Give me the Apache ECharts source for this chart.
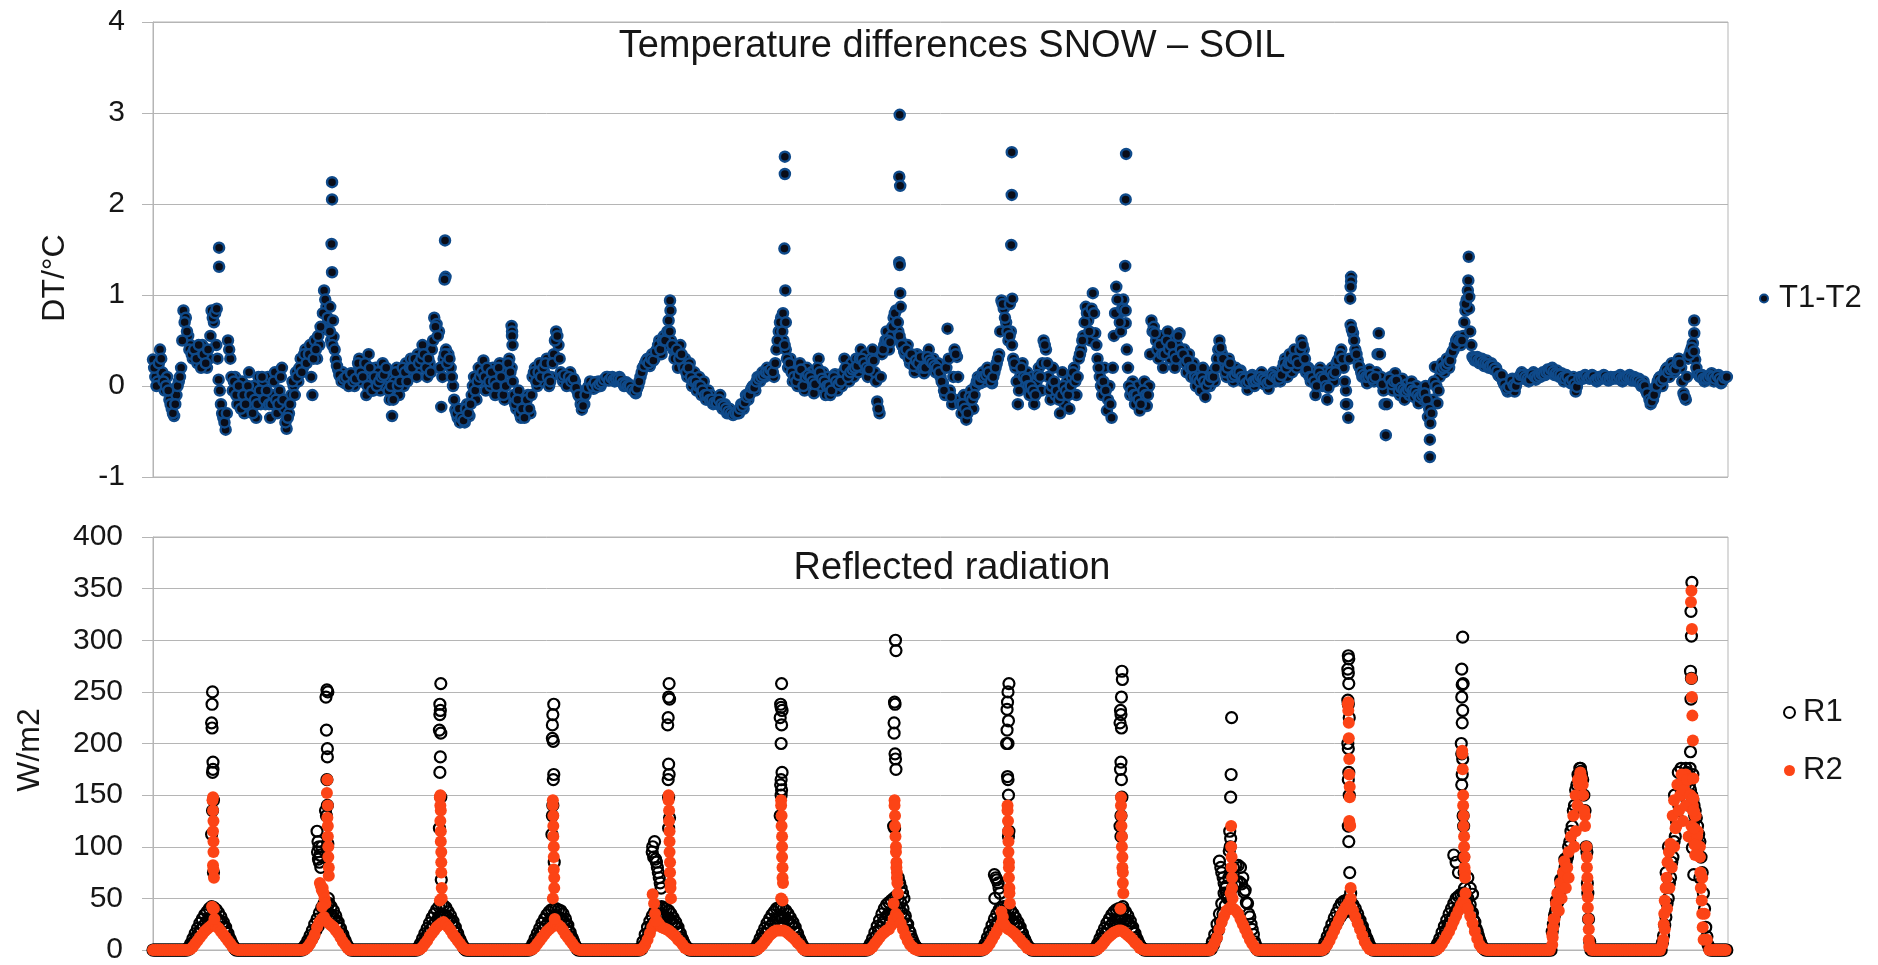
<!DOCTYPE html>
<html><head><meta charset="utf-8">
<script src="https://cdn.jsdelivr.net/npm/echarts@6/dist/echarts.min.js"></script>
<style>html,body{margin:0;padding:0;background:#fff}#c{width:1878px;height:965px}</style>
</head><body><div id="c"></div>
<script>
// ---- Top panel: T1-T2 (deg C). One row per day, 48 readings at hh:00 / hh:30 ----
const dtDays = [
[0.29,0.1,0.05,0.4,0.15,-0.05,0.1,-0.15, -0.25,-0.33,-0.1,0.05,0.2,0.83,0.75,0.55, 0.45,0.3,0.4,0.25,0.35,0.45,0.3,0.2, 0.3,0.83,0.7,0.45,0.07,-0.2,-0.35,-0.48, 0.5,0.3,-0.05,0.1,-0.2,-0.1,0.05,-0.3, -0.15,0.15,-0.25,0.0,-0.35,0.1,-0.2,0.05],
[-0.2,0.1,-0.35,-0.1,0.15,-0.3,-0.05,0.2, -0.25,-0.47,-0.3,-0.1,0.0,0.15,0.05,0.3, 0.2,0.4,0.3,0.45,-0.1,0.5,0.3,0.45, 0.62,1.05,0.87,0.72,0.5,0.54,0.29,0.18, 0.1,0.15,0.03,0.12,0.05,0.1,0.0,0.15, 0.3,0.05,0.2,-0.1,0.35,0.1,-0.05,0.2],
[0.15,-0.05,0.25,0.0,0.1,-0.15,-0.33,0.05, 0.2,-0.1,0.1,0.0,0.25,0.1,0.3,0.15, 0.2,0.35,0.2,0.45,0.3,0.1,0.25,0.4, 0.75,0.68,0.6,-0.23,0.3,0.4,0.35,0.2, 0.0,-0.26,-0.35,-0.4,-0.3,-0.4,-0.2,-0.33, -0.1,0.1,-0.15,0.2,0.05,0.28,-0.05,0.15],
[0.0,0.2,-0.1,0.1,0.25,0.05,-0.15,0.15, 0.3,0.2,-0.1,-0.25,-0.05,-0.35,-0.2,-0.3, -0.1,-0.3,0.1,0.2,0.0,0.25,0.05,0.15, 0.3,0.0,0.1,0.35,0.6,0.45,0.15,0.05, 0.1,0.03,0.15,0.0,0.05,-0.05,-0.12,-0.26, -0.2,-0.05,0.0,0.02,-0.03,0.03,0.05,0.0],
[0.05,0.08,0.1,0.07,0.1,0.05,0.06,0.1, 0.05,0.0,0.04,0.02,-0.02,-0.05,-0.08,0.0, 0.1,0.2,0.25,0.3,0.22,0.35,0.3,0.4, 0.5,0.35,0.55,0.45,0.72,0.5,0.4,0.35, 0.2,0.45,0.25,0.3,0.1,0.25,0.0,0.15, -0.05,0.1,-0.1,0.05,-0.15,-0.05,-0.1,-0.2],
[-0.15,-0.2,-0.1,-0.25,-0.2,-0.3,-0.25,-0.3, -0.3,-0.28,-0.3,-0.2,-0.25,-0.1,-0.15,-0.05, 0.0,-0.05,0.1,0.05,0.15,0.1,0.2,0.12, 0.18,0.1,0.4,0.6,0.75,0.5,0.4,0.2, 0.3,0.05,0.15,0.0,0.25,0.1,-0.05,0.2, 0.05,0.15,-0.08,0.1,0.3,0.0,0.15,-0.1],
[0.1,-0.1,0.05,0.13,-0.05,0.1,0.0,0.3, 0.15,0.05,0.25,0.1,0.3,0.15,0.4,0.2, 0.35,0.1,0.25,0.4,0.15,-0.17,-0.3,0.35, 0.45,0.6,0.4,0.55,0.75,0.83,0.6,0.5, 0.43,0.35,0.45,0.25,0.3,0.15,0.35,0.2, 0.3,0.14,0.25,0.4,0.2,0.3,0.15,0.25],
[0.1,0.03,-0.1,0.63,-0.05,-0.2,0.4,0.32, -0.15,-0.3,-0.1,-0.37,-0.2,-0.05,-0.25,0.0, 0.1,0.03,0.15,0.05,0.2,0.1,0.03,0.15, 0.25,0.35,0.94,0.85,0.7,0.5,0.6,0.3, 0.2,-0.2,0.1,0.25,0.0,0.15,-0.1,0.1, -0.2,0.05,0.2,-0.05,0.5,0.4,0.1,-0.15],
[0.2,-0.1,0.0,-0.3,0.15,-0.2,0.05,-0.25, 0.1,0.2,-0.1,0.3,0.4,0.55,0.87,0.72, 0.5,1.02,0.58,0.3,0.1,-0.1,0.2,-0.27, 0.0,-0.35,0.55,1.09,0.8,0.6,0.95,0.69, 0.2,-0.1,0.05,-0.2,0.0,-0.27,-0.15,0.05, -0.22,0.0,0.72,0.65,0.5,0.3,0.55,0.2],
[0.45,0.6,0.3,0.5,0.2,0.45,0.58,0.3, 0.4,0.15,0.35,0.1,0.25,0.0,0.15,-0.05, 0.2,-0.12,0.1,0.0,0.15,0.05,0.3,0.5, 0.36,0.2,0.1,0.3,0.15,0.05,0.2,0.1, 0.17,0.05,0.1,-0.04,0.08,0.12,0.0,0.1, 0.05,0.15,0.02,0.1,-0.03,0.08,0.15,0.05],
[0.1,0.05,0.2,0.3,0.1,0.35,0.15,0.4, 0.2,0.3,0.5,0.4,0.15,0.2,0.05,0.15, -0.1,0.1,0.2,0.0,0.15,-0.15,0.1,0.2, 0.05,0.25,0.3,0.4,0.2,-0.05,-0.35,0.67, 0.58,0.4,0.28,0.2,0.1,0.15,0.03,0.18, 0.1,0.05,0.15,0.58,0.1,-0.05,-0.54,0.05],
[0.1,-0.05,0.14,0.0,-0.1,0.08,-0.15,0.02, -0.1,0.05,-0.12,0.0,-0.19,-0.05,-0.15,0.0, -0.34,-0.41,-0.15,0.21,-0.19,0.1,0.25,0.15, 0.3,0.2,0.35,0.4,0.5,0.54,0.45,0.55, 0.83,1.05,0.6,0.32,0.28,0.32,0.25,0.3, 0.22,0.28,0.2,0.25,0.18,0.2,0.12,0.1],
[0.05,0.0,-0.06,0.03,0.08,-0.06,0.05,0.1, 0.15,0.08,0.12,0.05,0.1,0.15,0.07,0.12, 0.1,0.15,0.12,0.18,0.15,0.2,0.12,0.17, 0.1,0.14,0.05,0.12,0.08,0.03,0.1,-0.06, 0.05,0.1,0.08,0.12,0.1,0.08,0.12,0.1, 0.05,0.1,0.08,0.12,0.1,0.06,0.1,0.08],
[0.1,0.08,0.12,0.05,0.1,0.08,0.12,0.06, 0.1,0.05,0.08,0.0,0.05,-0.05,-0.1,-0.2, -0.15,-0.05,0.05,0.1,0.0,0.15,0.2,0.1, 0.25,0.15,0.2,0.3,0.2,-0.08,-0.15,0.3, 0.38,0.47,0.29,0.14,0.1,0.12,0.05,0.1, 0.08,0.14,0.05,0.1,0.12,0.03,0.08,0.1]
];
// readings at hh:15 / hh:45
const dtMidDays = [
[0.2,0.0,0.25,0.3,0.05,0.0,-0.05,-0.2, -0.3,-0.2,0.0,0.1,0.5,0.7,0.6,0.4, 0.35,0.4,0.3,0.45,0.2,0.35,0.25,0.4, 0.55,0.75,0.8,0.3,-0.05,-0.3,-0.4,-0.3, 0.4,0.1,0.05,-0.1,0.0,-0.25,-0.1,-0.2, 0.0,-0.1,-0.3,-0.15,-0.2,-0.05,0.1,-0.15],
[-0.05,-0.2,-0.2,0.05,-0.15,-0.2,0.1,-0.15, -0.4,-0.35,-0.2,0.05,-0.1,0.1,0.2,0.15, 0.35,0.25,0.35,0.1,0.3,0.4,0.55,0.65, 0.8,0.95,0.75,0.6,0.45,0.4,0.22,0.12, 0.05,0.08,0.1,0.0,0.14,0.05,0.08,0.25, 0.15,0.1,0.25,0.0,0.2,-0.05,0.1,0.0],
[0.05,0.1,0.12,0.2,-0.05,0.0,-0.15,0.15, 0.0,0.05,0.2,0.15,0.05,0.2,0.2,0.3, 0.1,0.25,0.3,0.35,0.2,0.3,0.15,0.5, 0.65,0.55,0.2,0.1,0.35,0.25,0.3,0.1, -0.15,-0.3,-0.25,-0.35,-0.38,-0.25,-0.3,-0.2, 0.0,-0.05,0.05,0.1,0.15,0.1,0.2,0.05],
[0.15,0.05,0.0,0.2,0.1,-0.1,0.0,0.25, 0.15,0.05,-0.2,-0.15,-0.3,-0.25,-0.35,-0.15, -0.25,-0.1,0.15,0.05,0.15,0.1,0.2,0.25, 0.1,0.05,0.25,0.5,0.55,0.3,0.1,0.12, 0.0,0.1,0.05,0.08,-0.02,-0.1,-0.2,-0.22, -0.1,-0.02,0.05,0.0,0.04,-0.01,0.02,0.04],
[0.07,0.1,0.06,0.09,0.07,0.08,0.08,0.07, 0.03,0.02,0.0,0.0,-0.04,-0.06,-0.03,0.05, 0.15,0.22,0.28,0.25,0.3,0.28,0.38,0.45, 0.4,0.5,0.5,0.6,0.6,0.45,0.3,0.4, 0.3,0.35,0.2,0.15,0.2,0.1,0.05,0.05, 0.0,0.0,-0.05,-0.1,-0.1,-0.15,-0.15,-0.18],
[-0.18,-0.15,-0.2,-0.22,-0.25,-0.28,-0.3,-0.32, -0.3,-0.3,-0.25,-0.22,-0.18,-0.12,-0.1,-0.02, -0.02,0.05,0.08,0.1,0.12,0.15,0.15,0.18, 0.15,0.25,0.5,0.7,0.6,0.45,0.3,0.25, 0.15,0.1,0.05,0.12,0.18,0.0,0.1,0.12, 0.1,0.05,0.02,0.2,0.15,0.08,0.05,0.0],
[0.0,-0.05,0.1,0.05,0.02,0.05,0.15,0.2, 0.1,0.15,0.18,0.2,0.22,0.3,0.3,0.25, 0.2,0.18,0.3,0.28,0.05,-0.25,0.1,0.4, 0.5,0.5,0.48,0.65,0.8,0.7,0.55,0.45, 0.38,0.4,0.3,0.35,0.22,0.28,0.25,0.32, 0.2,0.2,0.32,0.28,0.25,0.22,0.2,0.15],
[0.05,-0.05,0.2,0.3,-0.12,0.1,0.35,0.1, -0.2,-0.2,-0.25,-0.3,-0.12,-0.15,-0.1,0.05, 0.05,0.1,0.1,0.12,0.15,0.05,0.1,0.2, 0.3,0.6,0.9,0.75,0.6,0.55,0.45,0.25, 0.05,-0.05,0.2,0.1,0.08,0.0,0.0,-0.05, -0.1,0.12,0.1,0.25,0.45,0.25,-0.05,0.0],
[0.05,-0.05,-0.15,-0.1,0.0,-0.05,-0.1,0.0, 0.15,0.05,0.1,0.35,0.5,0.7,0.8,0.6, 0.85,0.8,0.45,0.2,0.0,0.05,-0.05,-0.15, -0.2,0.2,0.8,0.95,0.7,0.85,0.83,0.4, 0.0,-0.05,-0.1,-0.1,-0.15,-0.2,-0.05,-0.1, -0.1,0.35,0.6,0.58,0.4,0.45,0.35,0.35],
[0.5,0.4,0.45,0.35,0.3,0.55,0.4,0.35, 0.25,0.28,0.2,0.2,0.1,0.08,0.05,0.1, 0.05,0.0,0.05,0.1,0.1,0.2,0.4,0.42, 0.3,0.15,0.2,0.25,0.1,0.12,0.15,0.15, 0.1,0.08,0.03,0.05,0.1,0.05,0.06,0.08, 0.1,0.08,0.06,0.03,0.05,0.12,0.1,0.08],
[0.08,0.12,0.25,0.2,0.25,0.25,0.3,0.3, 0.25,0.4,0.45,0.3,0.18,0.1,0.1,0.05, 0.0,0.15,0.1,0.08,0.0,-0.02,0.15,0.12, 0.15,0.28,0.35,0.3,0.05,-0.2,0.3,0.62, 0.5,0.35,0.22,0.15,0.12,0.1,0.1,0.12, 0.08,0.1,0.35,0.35,0.02,-0.2,-0.2,0.08],
[0.02,0.05,0.06,-0.05,-0.02,-0.04,-0.06,-0.04, -0.02,-0.05,-0.06,-0.1,-0.12,-0.1,-0.08,-0.15, -0.25,-0.3,0.05,0.0,-0.05,0.18,0.2,0.22, 0.25,0.28,0.38,0.45,0.52,0.5,0.5,0.7, 0.95,0.85,0.45,0.3,0.3,0.28,0.28,0.26, 0.25,0.24,0.22,0.22,0.19,0.16,0.11,0.12],
[0.02,-0.03,-0.01,0.06,0.01,0.0,0.08,0.12, 0.12,0.1,0.08,0.07,0.13,0.1,0.09,0.11, 0.13,0.13,0.15,0.16,0.18,0.16,0.14,0.13, 0.12,0.09,0.08,0.1,0.05,0.07,0.02,-0.01, 0.08,0.09,0.1,0.11,0.09,0.1,0.11,0.07, 0.08,0.09,0.1,0.11,0.08,0.08,0.09,0.09],
[0.09,0.1,0.08,0.08,0.09,0.1,0.09,0.08, 0.07,0.06,0.04,0.02,0.0,-0.08,-0.15,-0.17, -0.1,0.0,0.08,0.05,0.08,0.18,0.15,0.18, 0.2,0.18,0.25,0.25,0.05,-0.12,0.1,0.34, 0.42,0.38,0.2,0.12,0.11,0.08,0.08,0.09, 0.11,0.1,0.08,0.11,0.08,0.05,0.09,0.1]
];
// extra short-interval readings [hour, value]
const dtExtra = [
[13.6,0.85],[14.1,1.52],[14.1,1.31],
[37.8,0.87],[38.2,2.24],[38.2,2.05],[38.1,1.56],[38.2,1.25],[38.4,0.72],
[62.3,1.6],[62.4,1.2],[62.2,1.17],
[76.5,0.66],[76.6,0.6],[76.6,0.55],[76.7,0.45],
[110.3,0.94],[110.4,0.83],
[134.4,0.8],[134.8,2.52],[134.8,2.33],[134.7,1.51],[134.9,1.05],[135.0,0.7],
[158.9,0.7],[159.3,2.98],[159.2,2.3],[159.4,2.2],[159.2,1.36],[159.3,1.33],[159.4,1.02],[159.5,0.87],
[182.8,0.9],[183.2,2.57],[183.2,2.1],[183.1,1.55],[183.3,0.96],
[207.0,0.85],[207.6,2.55],[207.5,2.05],[207.4,1.32],[207.5,0.83],
[254.5,-0.2],[255.6,1.2],[255.6,1.15],[255.5,1.09],[255.4,0.96],
[272.4,-0.59],[272.4,-0.78],
[280.0,0.9],[280.7,1.42],[280.6,1.16],[280.8,0.98],
[328.8,0.72],[328.8,0.58]
];

// ---- Bottom panel: reflected radiation W/m2. One row per day, 48 readings at hh:00 / hh:30 ----
const r1Days = [
[0,0,0,0,0, 0,0,0,0,0, 0,0,0,0,0, 2,6,11,16,21,26,30,34,37,40,42,41,39,36,32,27,22,16,10,5,1, 0,0,0,0,0, 0,0,0,0,0, 0,0],
[0,0,0,0,0, 0,0,0,0,0, 0,0,0,0,0, 0, 2,5,9,14,19,25,30,36,41,45,46,45,42,38,33,27,21,15,9,4,1, 0,0,0,0,0, 0,0,0,0,0, 0],
[0,0,0,0,0, 0,0,0,0,0, 0,0,0,0,0, 0,0, 2,6,11,16,21,26,31,35,39,42,44,43,41,37,33,28,22,16,10,5,1, 0,0,0,0,0, 0,0,0,0,0],
[0,0,0,0,0, 0,0,0,0,0, 0,0,0,0,0, 0,0, 2,6,11,16,21,26,30,34,37,39,40,40,39,38,35,30,24,17,11,5,1, 0,0,0,0,0, 0,0,0,0,0],
[0,0,0,0,0, 0,0,0,0,0, 0,0,0,0,0, 0, 2,8,15,22,28,33,37,40,41,42,41,40,38,35,31,27,22,16,10,5,2,0, 0,0,0,0,0, 0,0,0,0,0],
[0,0,0,0,0, 0,0,0,0,0, 0,0,0,0,0, 0,0, 2,6,11,16,21,26,30,34,37,40,41,41,40,38,35,31,27,22,16,10,5,1, 0,0,0,0,0, 0,0,0,0],
[0,0,0,0,0, 0,0,0,0,0, 0,0,0,0,0, 0,0, 2,6,11,17,23,29,35,40,44,46,48,50,52,50,46,40,33,25,17,10,5,2,0, 0,0,0,0,0, 0,0,0],
[0,0,0,0,0, 0,0,0,0,0, 0,0,0,0,0, 0,0,0, 2,6,12,18,24,30,35,39,41,42,41,40,38,35,31,27,22,16,10,5,2,0, 0,0,0,0,0, 0,0,0],
[0,0,0,0,0, 0,0,0,0,0, 0,0,0,0,0, 0,0,0, 2,6,11,16,21,26,30,34,37,39,40,40,39,37,33,28,22,16,10,5,2,0, 0,0,0,0,0, 0,0,0],
[0,0,0,0,0, 0,0,0,0,0, 0,0,0,0,0, 0,0,0,0, 2,8,15,25,35,45,55,62,70,75,80,82,82,80,70,58,45,32,20,8,1, 0,0,0,0,0, 0,0,0],
[0,0,0,0,0, 0,0,0,0,0, 0,0,0,0,0, 0,0,0,0, 2,7,13,19,25,31,36,41,45,47,48,48,47,44,40,35,29,23,17,11,5,1, 0,0,0,0,0, 0,0],
[0,0,0,0,0, 0,0,0,0,0, 0,0,0,0,0, 0,0,0,0, 2,6,11,17,23,29,35,40,45,50,52,54,55,54,50,44,36,27,18,10,4,1,0, 0,0,0,0,0, 0],
[0,0,0,0,0, 0,0,0,0,0, 0,0,0,0,0, 0,0,0,0,0, 0, 18,34,45,55,64,75,86,100,115,135,155,170,176,165,135,65,8, 0,0,0,0,0, 0,0,0,0,0],
[0,0,0,0,0, 0,0,0,0,0, 0,0,0,0,0, 0,0,0,0,0, 7,24,45,65,85,105,125,140,155,165,176,170,155,145,135,120,105,75,40,13,2, 0,0,0,0,0, 0,0]
];
// R1 readings at hh:15 / hh:45
const r1MidDays = [
[0,0,0,0,0, 0,0,0,0,0, 0,0,0,0,0, 1,4,8,12,16,20,23,26,29,31,32,32,30,28,25,21,17,12,7,3,0, 0,0,0,0,0, 0,0,0,0,0, 0,0],
[0,0,0,0,0, 0,0,0,0,0, 0,0,0,0,0, 0, 1,3,6,10,14,19,23,28,32,35,36,35,33,30,26,21,16,11,6,2,0, 0,0,0,0,0, 0,0,0,0,0, 0],
[0,0,0,0,0, 0,0,0,0,0, 0,0,0,0,0, 0,0, 1,4,8,12,16,20,24,27,30,33,34,33,32,29,26,22,17,12,7,3,0, 0,0,0,0,0, 0,0,0,0,0],
[0,0,0,0,0, 0,0,0,0,0, 0,0,0,0,0, 0,0, 1,4,8,12,16,20,23,26,29,31,32,32,31,30,27,23,18,13,8,3,0, 0,0,0,0,0, 0,0,0,0,0],
[0,0,0,0,0, 0,0,0,0,0, 0,0,0,0,0, 0, 1,5,11,17,22,26,29,31,32,33,32,31,30,27,24,21,17,12,7,3,1,0, 0,0,0,0,0, 0,0,0,0,0],
[0,0,0,0,0, 0,0,0,0,0, 0,0,0,0,0, 0,0, 1,4,8,12,16,20,23,26,29,31,32,32,31,29,27,24,21,17,12,7,3,0, 0,0,0,0,0, 0,0,0,0],
[0,0,0,0,0, 0,0,0,0,0, 0,0,0,0,0, 0,0, 1,4,8,13,18,22,27,31,34,36,38,39,40,39,36,31,25,19,13,7,3,1,0, 0,0,0,0,0, 0,0,0],
[0,0,0,0,0, 0,0,0,0,0, 0,0,0,0,0, 0,0,0, 1,4,9,14,19,23,27,30,32,33,32,31,29,27,24,21,17,12,7,3,1,0, 0,0,0,0,0, 0,0,0],
[0,0,0,0,0, 0,0,0,0,0, 0,0,0,0,0, 0,0,0, 1,4,8,12,16,20,23,26,29,30,31,31,30,28,25,21,17,12,7,3,1,0, 0,0,0,0,0, 0,0,0],
[0,0,0,0,0, 0,0,0,0,0, 0,0,0,0,0, 0,0,0,0, 1,5,11,19,27,35,43,50,56,60,64,66,66,64,56,46,35,25,15,5,0, 0,0,0,0,0, 0,0,0],
[0,0,0,0,0, 0,0,0,0,0, 0,0,0,0,0, 0,0,0,0, 1,5,10,15,20,24,28,32,35,37,38,38,37,35,32,28,23,18,13,8,3,0, 0,0,0,0,0, 0,0],
[0,0,0,0,0, 0,0,0,0,0, 0,0,0,0,0, 0,0,0,0, 1,4,8,13,18,23,28,32,36,40,42,44,45,44,40,35,29,21,14,7,2,0,0, 0,0,0,0,0, 0],
[0,0,0,0,0, 0,0,0,0,0, 0,0,0,0,0, 0,0,0,0,0, 0, 25,38,47,58,68,80,90,105,120,140,160,168,170,150,100,30,0, 0,0,0,0,0, 0,0,0,0,0],
[0,0,0,0,0, 0,0,0,0,0, 0,0,0,0,0, 0,0,0,0,0, 14,32,50,70,90,110,128,142,158,170,172,160,150,140,128,112,90,55,22,5,0, 0,0,0,0,0, 0,0]
];
const r2Days = [
[0,0,0,0,0, 0,0,0,0,0, 0,0,0,0,0, 0,1,3,6,9,12,15,18,20,22,24,24,23,21,18,15,12,9,6,3,1, 0,0,0,0,0, 0,0,0,0,0, 0,0],
[0,0,0,0,0, 0,0,0,0,0, 0,0,0,0,0, 0, 0,1,3,6,10,15,22,27,30,32,28,26,24,22,19,16,12,8,5,2,0, 0,0,0,0,0, 0,0,0,0,0, 0],
[0,0,0,0,0, 0,0,0,0,0, 0,0,0,0,0, 0,0, 0,1,3,6,9,13,16,19,22,24,26,27,25,22,19,15,12,9,6,3,1, 0,0,0,0,0, 0,0,0,0,0],
[0,0,0,0,0, 0,0,0,0,0, 0,0,0,0,0, 0,0, 0,1,3,6,9,12,15,18,20,22,24,25,24,22,19,15,12,9,6,3,1, 0,0,0,0,0, 0,0,0,0,0],
[0,0,0,0,0, 0,0,0,0,0, 0,0,0,0,0, 0, 0,2,5,10,16,22,26,28,25,22,21,20,19,17,15,13,10,8,5,2,1,0, 0,0,0,0,0, 0,0,0,0,0],
[0,0,0,0,0, 0,0,0,0,0, 0,0,0,0,0, 0,0, 0,1,3,5,8,11,14,16,18,19,19,19,19,18,16,14,12,10,7,5,2,0, 0,0,0,0,0, 0,0,0,0],
[0,0,0,0,0, 0,0,0,0,0, 0,0,0,0,0, 0,0, 0,1,3,6,9,12,15,17,19,20,24,30,35,32,26,20,14,9,5,3,1,0,0, 0,0,0,0,0, 0,0,0],
[0,0,0,0,0, 0,0,0,0,0, 0,0,0,0,0, 0,0,0, 0,1,3,6,10,14,18,22,26,25,22,20,19,17,15,12,10,7,5,2,1,0, 0,0,0,0,0, 0,0,0],
[0,0,0,0,0, 0,0,0,0,0, 0,0,0,0,0, 0,0,0, 0,1,3,5,8,11,13,15,17,18,19,19,18,16,14,12,10,7,5,2,1,0, 0,0,0,0,0, 0,0,0],
[0,0,0,0,0, 0,0,0,0,0, 0,0,0,0,0, 0,0,0,0, 0,3,7,12,20,27,33,38,40,42,40,38,35,30,25,20,15,10,6,3,0, 0,0,0,0,0, 0,0,0],
[0,0,0,0,0, 0,0,0,0,0, 0,0,0,0,0, 0,0,0,0, 0,2,5,9,14,19,24,29,34,38,42,45,42,38,32,26,20,14,8,4,1,0, 0,0,0,0,0, 0,0],
[0,0,0,0,0, 0,0,0,0,0, 0,0,0,0,0, 0,0,0,0, 0,1,3,6,10,14,18,23,28,33,38,43,47,45,40,33,26,18,11,5,2,1,0, 0,0,0,0,0, 0],
[0,0,0,0,0, 0,0,0,0,0, 0,0,0,0,0, 0,0,0,0,0, 0, 15,30,40,50,60,70,80,95,110,130,150,165,172,160,130,60,5, 0,0,0,0,0, 0,0,0,0,0],
[0,0,0,0,0, 0,0,0,0,0, 0,0,0,0,0, 0,0,0,0,0, 5,20,40,60,80,100,120,135,150,160,170,165,150,140,130,115,100,70,35,10,0, 0,0,0,0,0, 0,0]
];
// extra short-interval readings around midday [hour, value]
const r1Extra = [
[12.7,250],[12.6,238],[12.5,220],[12.6,215],[12.8,182],[12.8,175],[12.7,172],[12.9,145],[12.7,135],[12.5,112],[12.9,75],
[37.1,252],[37.3,250],[36.9,245],[37.0,213],[37.2,195],[37.2,187],[37.1,165],[37.2,140],[36.8,135],[37.0,130],[35.0,115],[35.2,105],[35.4,100],[35.1,95],[35.6,92],[35.3,88],[35.8,80],[36.0,100],[35.5,85],[37.3,103],[37.4,50],[37.5,45],
[61.4,258],[61.2,238],[61.3,232],[61.2,228],[61.1,213],[61.4,210],[61.3,187],[61.2,172],[61.4,148],[61.1,118],[61.5,68],
[85.5,238],[85.3,228],[85.2,218],[85.2,205],[85.4,202],[85.5,170],[85.4,165],[85.3,140],[85.2,130],[85.1,112],[85.6,85],
[110.1,258],[110.0,245],[110.2,243],[109.9,225],[109.8,218],[110.0,180],[110.1,170],[109.9,165],[110.0,148],[110.2,128],[110.0,118],[106.5,95],[106.8,90],[107.0,105],[107.2,88],[107.4,85],[107.6,80],[107.8,75],[108.0,70],[108.2,65],[108.4,60],[106.6,100],
[134.1,258],[133.9,238],[134.0,235],[134.2,232],[133.8,225],[134.1,218],[134.0,200],[134.2,172],[134.0,165],[133.9,160],[134.1,155],[134.0,150],[133.8,130],
[158.4,300],[158.5,290],[158.2,240],[158.3,238],[158.1,220],[158.1,210],[158.3,190],[158.4,185],[158.5,175],[158.0,120],[158.2,118],[159.0,70],[159.3,65],[159.6,60],[159.9,55],[160.2,50],
[182.6,258],[182.4,250],[182.3,240],[182.2,233],[182.5,222],[182.2,213],[182.1,200],[182.4,200],[182.3,168],[182.4,165],[182.5,150],[182.6,115],[182.5,110],[179.5,73],[179.8,70],[180.0,68],[180.3,65],[180.5,60],[180.7,55],[179.6,50],
[206.7,270],[206.8,262],[206.6,245],[206.4,232],[206.5,228],[206.3,220],[206.6,215],[206.5,182],[206.4,175],[206.6,165],[206.7,148],[206.5,130],[206.3,120],[206.5,110],[206.9,42],
[230.1,225],[230.0,170],[229.9,148],[229.7,115],[229.9,108],[229.8,100],[229.6,96],[227.5,86],[227.8,80],[228.0,75],[228.3,70],[228.5,65],[228.8,60],[229.0,55],[229.3,51],
[255.0,285],[255.1,282],[254.9,272],[255.0,268],[255.1,258],[254.9,242],[255.0,238],[255.2,225],[254.9,200],[255.0,195],[255.1,172],[255.0,165],[255.2,150],[255.0,120],[255.1,105],[255.3,75],[255.5,55],
[279.4,303],[279.2,272],[279.5,258],[279.3,257],[279.2,245],[279.4,232],[279.3,220],[279.1,200],[279.2,190],[279.4,185],[279.3,170],[279.2,160],[279.5,130],[279.6,120],[279.6,90],[279.7,75],[279.8,60],[280.0,50],[277.5,92],[278.0,85],[278.5,75],[280.5,70],[281.0,60],[281.5,54],
[304.4,176],[304.6,173],[304.3,168],[299.4,48],[300.3,68],[301.2,88],[305.9,95],[306.1,55],
[322.8,75],[323.3,100],[324.6,150],[325.4,172],[326.0,176],[326.9,160],[327.7,140],[328.9,130],[329.6,103],[330.0,70],
[328.3,356],[328.1,328],[328.2,304],[328.0,270],[328.2,263],[328.1,243],[328.0,192],[327.9,176],[328.5,170],[328.3,140],[328.6,121],[328.4,99],[328.7,73]
];
const r2Extra = [
[12.8,148],[12.7,145],[12.8,135],[12.9,125],[12.8,115],[12.9,105],[12.9,95],[12.8,82],[12.9,78],[13.0,70],[12.6,42],[12.8,40],[13.0,40],[13.1,30],
[37.2,165],[37.1,152],[37.3,140],[37.2,128],[37.3,120],[37.3,110],[37.4,100],[37.4,90],[37.5,80],[37.5,72],[35.6,65],[35.8,62],[36.0,58],[36.2,60],[36.4,55],[36.6,50],[36.8,45],[36.1,42],
[61.3,150],[61.2,148],[61.3,140],[61.4,135],[61.3,125],[61.4,115],[61.4,105],[61.5,95],[61.5,85],[61.5,75],[61.6,60],[61.6,50],[61.2,48],
[85.3,145],[85.3,140],[85.4,130],[85.4,120],[85.4,110],[85.5,100],[85.5,90],[85.5,78],[85.6,70],[85.6,60],[85.3,50],[85.7,30],
[110.0,150],[110.0,145],[110.1,135],[110.1,125],[110.2,115],[110.2,105],[110.2,95],[110.3,85],[110.3,75],[110.4,65],[110.4,60],[110.5,50],[106.6,54],[106.9,45],[107.1,35],[107.3,28],
[134.0,145],[134.0,140],[134.1,130],[134.1,120],[134.2,110],[134.2,100],[134.2,90],[134.3,80],[134.3,70],[134.4,65],[134.0,50],[134.3,48],
[158.2,145],[158.2,140],[158.3,130],[158.3,120],[158.4,110],[158.5,100],[158.5,95],[158.6,85],[158.6,80],[158.7,75],[158.7,70],[158.8,65],[158.9,55],[158.0,45],
[182.3,140],[182.3,135],[182.4,125],[182.4,115],[182.5,105],[182.5,95],[182.6,85],[182.6,80],[182.6,70],[182.7,60],[182.7,55],[182.8,45],[181.0,37],[181.3,32],[181.6,25],
[206.5,148],[206.5,140],[206.6,130],[206.6,120],[206.7,110],[206.7,100],[206.8,90],[206.8,80],[206.9,75],[206.9,65],[207.0,55],[206.4,40],
[230.0,120],[230.0,100],[230.1,90],[230.1,80],[230.2,70],[230.2,60],[229.9,55],[230.3,50],
[255.0,240],[254.9,238],[255.0,232],[255.1,220],[255.1,205],[255.2,185],[255.2,170],[255.3,158],[255.3,148],[255.2,125],[255.3,122],[255.4,120],[255.5,60],[255.5,50],
[279.3,193],[279.3,190],[279.4,175],[279.5,150],[279.5,140],[279.6,130],[279.6,120],[279.7,110],[279.7,100],[279.8,90],[279.8,80],[279.9,75],[279.9,70],[280.0,55],
[298.5,5],[298.6,12],[298.7,22],[298.8,30],[299.3,45],[299.6,55],[299.9,38],[300.2,65],[300.5,50],[300.8,75],[301.1,86],[301.4,60],[301.7,80],[302.0,70],
[303.2,100],[303.5,115],[303.9,140],[304.2,160],[304.5,170],[304.8,166],[305.1,150],[305.3,135],[305.5,120],
[305.8,100],[305.9,90],[305.9,80],[306.0,70],[306.0,60],[306.1,51],[306.1,41],[306.2,30],[306.3,20],[306.3,10],[306.4,3],
[322.2,10],[322.3,25],[322.4,35],[322.5,48],[322.7,60],[322.9,70],[323.1,85],[323.4,95],[323.7,103],
[324.2,130],[324.5,145],[324.8,118],[325.2,160],[325.5,135],[325.8,150],[326.1,170],[326.4,125],[326.7,155],[327.0,140],[327.3,165],[327.6,110],[327.9,150],[328.2,120],[328.5,135],[328.8,105],[329.1,130],[329.4,110],
[329.8,100],[330.0,90],[330.1,75],[330.2,60],[330.4,48],[330.5,35],[330.6,22],[330.8,10],
[328.2,348],[328.1,337],[328.3,311],[328.2,263],[328.3,245],[328.4,227],[328.5,203],[328.6,166],[328.6,147],[328.7,135],[328.8,118],[328.9,102],[329.0,92]
];

const dtTicks = [-1, 4, 1];      // min, max, step
const rTicks = [0, 400, 50];
const hoursSpan = 336;

// ---- build series: hour = day*24 + slot*0.5 (+0.25 for the quarter-hour rows) ----
function fromDays(days, offset){
  const out = [];
  days.forEach((row, d) => row.forEach((v, i) => out.push([d * 24 + i * 0.5 + offset, v])));
  return out;
}
const dtData = fromDays(dtDays, 0).concat(fromDays(dtMidDays, 0.25), dtExtra);
const r1Data = fromDays(r1Days, 0).concat(fromDays(r1MidDays, 0.25), r1Extra);
const r2Data = fromDays(r2Days, 0).concat(r2Extra);

const FONT = '"Liberation Sans", Arial, sans-serif';
const GRID = '#b5b5b5';
const TXT = '#161616';

const chart = echarts.init(document.getElementById('c'), null, {renderer: 'canvas'});
const yCommon = (t, margin) => ({
  type: 'value', min: t[0], max: t[1], interval: t[2],
  axisLine: {show: true, lineStyle: {color: GRID}},
  axisTick: {show: true, length: 11, lineStyle: {color: GRID}},
  axisLabel: {fontSize: 30, color: TXT, fontFamily: FONT, margin: margin},
  splitLine: {show: true, lineStyle: {color: GRID, width: 1}}
});
chart.setOption({
  animation: false,
  backgroundColor: '#ffffff',
  grid: [
    {left: 153, top: 22, width: 1575, height: 455, show: true, borderColor: GRID, borderWidth: 1},
    {left: 153, top: 537, width: 1575, height: 416, show: true, borderColor: GRID, borderWidth: 1}
  ],
  xAxis: [
    {gridIndex: 0, type: 'value', min: 0, max: hoursSpan, show: false},
    {gridIndex: 1, type: 'value', min: 0, max: hoursSpan, show: false}
  ],
  yAxis: [
    Object.assign({gridIndex: 0}, yCommon(dtTicks, 28)),
    Object.assign({gridIndex: 1}, yCommon(rTicks, 30))
  ],
  legend: [
    {data: [{name: 'T1-T2', icon: 'circle'}], orient: 'vertical', left: 1754, top: 278,
     itemWidth: 8, itemHeight: 8, selectedMode: false,
     textStyle: {fontSize: 31, color: TXT, fontFamily: FONT, lineHeight: 30, padding: [0, 0, 0, 6]}},
    {data: [{name: 'R1', icon: 'circle', itemStyle: {color: 'rgba(0,0,0,0)', borderColor: '#000', borderWidth: 2}},
            {name: 'R2', icon: 'circle'}],
     orient: 'vertical', left: 1778, top: 692, itemGap: 27,
     itemWidth: 11, itemHeight: 11, selectedMode: false,
     textStyle: {fontSize: 31, color: TXT, fontFamily: FONT, lineHeight: 30, padding: [0, 0, 0, 3]}}
  ],
  graphic: [
    {type: 'text', x: 952, y: 47, silent: true,
     style: {text: 'Temperature differences SNOW \u2013 SOIL', font: '38px ' + FONT, fill: TXT,
             textAlign: 'center', textVerticalAlign: 'middle', align: 'center', verticalAlign: 'middle'}},
    {type: 'text', x: 952, y: 569, silent: true,
     style: {text: 'Reflected radiation', font: '38px ' + FONT, fill: TXT,
             textAlign: 'center', textVerticalAlign: 'middle', align: 'center', verticalAlign: 'middle'}},
    {type: 'text', x: 55, y: 278, rotation: Math.PI / 2, silent: true,
     style: {text: 'DT/\u00B0C', font: '32px ' + FONT, fill: TXT,
             textAlign: 'center', textVerticalAlign: 'middle', align: 'center', verticalAlign: 'middle'}},
    {type: 'text', x: 30, y: 750, rotation: Math.PI / 2, silent: true,
     style: {text: 'W/m2', font: '32px ' + FONT, fill: TXT,
             textAlign: 'center', textVerticalAlign: 'middle', align: 'center', verticalAlign: 'middle'}}
  ],
  series: [
    {name: 'T1-T2', type: 'scatter', xAxisIndex: 0, yAxisIndex: 0, data: dtData,
     symbol: 'circle', symbolSize: 10,
     itemStyle: {color: '#0a0d18', borderColor: '#0f4a8a', borderWidth: 2.5, opacity: 1}},
    {name: 'R1', type: 'scatter', xAxisIndex: 1, yAxisIndex: 1, data: r1Data,
     symbol: 'circle', symbolSize: 11,
     itemStyle: {color: 'rgba(0,0,0,0)', borderColor: '#000', borderWidth: 2.2, opacity: 1}},
    {name: 'R2', type: 'scatter', xAxisIndex: 1, yAxisIndex: 1, data: r2Data,
     symbol: 'circle', symbolSize: 12,
     itemStyle: {color: '#fc4416', opacity: 1}}
  ]
});
</script>
</body></html>
